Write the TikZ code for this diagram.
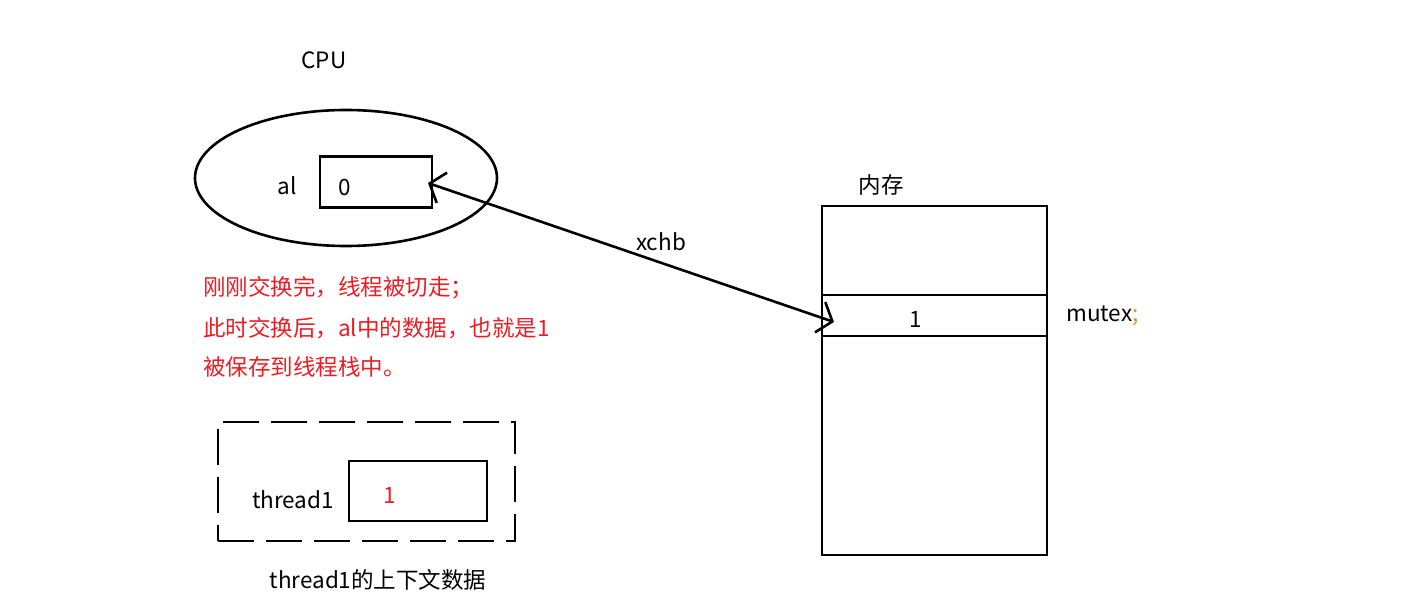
\documentclass[tikz,border=0pt]{standalone}
\usepackage{fontspec}
\setmainfont{Noto Sans CJK SC}
\usetikzlibrary{arrows.meta, shapes.geometric}
\definecolor{ink}{RGB}{0,0,0}
\definecolor{note}{RGB}{236,28,36}
\definecolor{semi}{RGB}{230,140,40}

\begin{document}
\begin{tikzpicture}[x=1pt,y=-1pt,
                    bx/.style={draw=ink,line width=2.6pt,inner sep=0pt},
                    lb/.style={font=\fontsize{22.5}{27}\selectfont,inner sep=0pt},
                    rd/.style={lb,text=note,anchor=west}]
  \useasboundingbox (0,0) rectangle (1416,604);
  % CPU and its register
  \node[lb] (cpu) at (324,60) {CPU};
  \node[ellipse,draw=ink,line width=2.6pt,minimum width=302pt,minimum height=136pt] (core) at (346,178) {};
  \node[bx,minimum width=112pt,minimum height=51pt] (reg) at (376,182) {};
  \node[lb] (al) at (287,186) {al};
  \node[lb] (zero) at (345,187) {0};
  % memory
  \node[lb] (memt) at (881,185) {内存};
  \node[bx,minimum width=225pt,minimum height=349pt] (mem) at (934.5,380.5) {};
  \node[bx,minimum width=225pt,minimum height=41pt] (slot) at (934.5,315.5) {};
  \node[lb] (one) at (916,319) {1};
  \node[lb,anchor=west] (mutex) at (1066,316) {mutex\textcolor{semi}{;}};
  % xchb
  \coordinate (regtip) at (428,183);
  \coordinate (slottip) at (834,322);
  \draw[ink,line width=2.6pt,{Straight Barb[length=13pt,width=32pt]}-{Straight Barb[length=13pt,width=32pt]}] (regtip) -- (slottip);
  \node[lb] (xchb) at (661,242) {xchb};
  % note
  \node[rd] (n1) at (203,288) {刚刚交换完，线程被切走；};
  \node[rd] (n2) at (203,328) {此时交换后，al中的数据，也就是1};
  \node[rd] (n3) at (203,367) {被保存到线程栈中。};
  % saved context
  \node[bx,dash pattern=on 36pt off 12pt,minimum width=297pt,minimum height=119pt] (ctx) at (366.5,481.5) {};
  \node[bx,minimum width=138pt,minimum height=60pt] (save) at (418,491) {};
  \node[lb] (thr) at (293,500) {thread1};
  \node[lb,text=note] (sv) at (390,495) {1};
  \node[lb] (cap) at (378,580) {thread1的上下文数据};
\end{tikzpicture}
\end{document}
